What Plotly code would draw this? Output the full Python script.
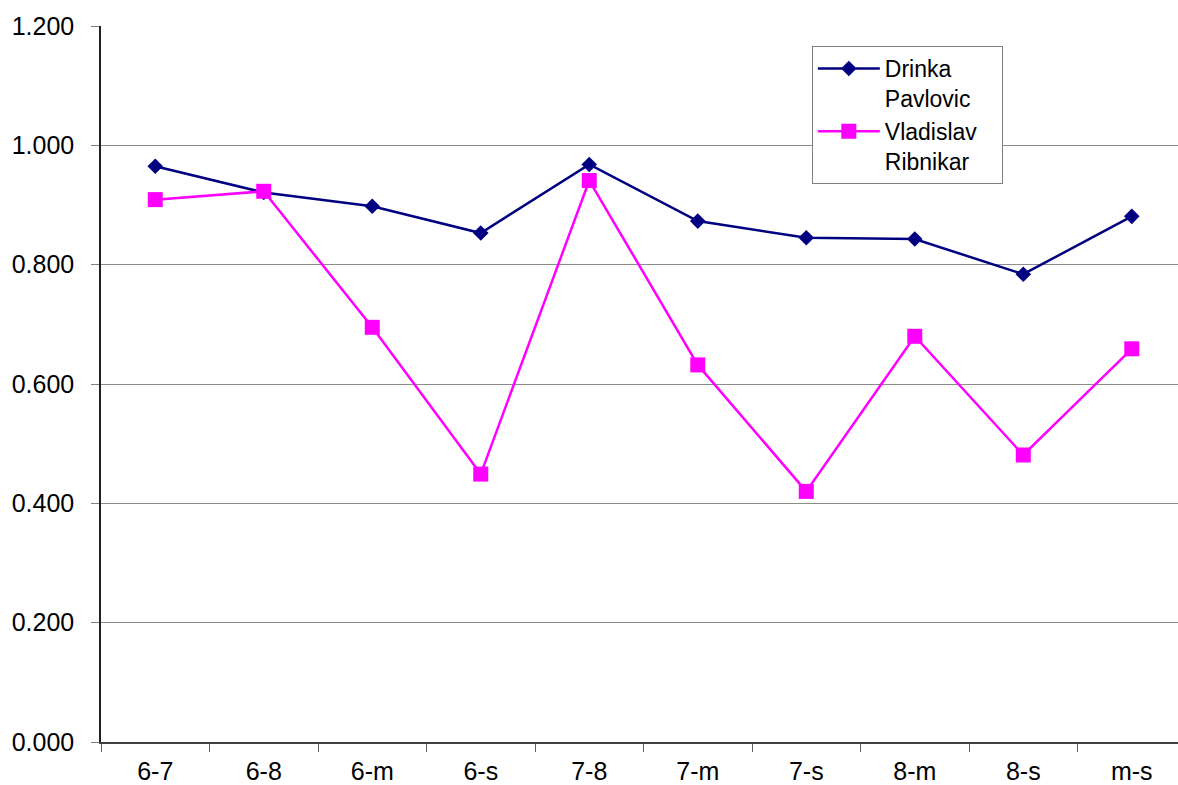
import plotly.graph_objects as go

categories = ["6-7", "6-8", "6-m", "6-s", "7-8", "7-m", "7-s", "8-m", "8-s", "m-s"]
drinka = [0.965, 0.921, 0.898, 0.853, 0.968, 0.873, 0.845, 0.843, 0.784, 0.881]
vladislav = [0.909, 0.923, 0.695, 0.449, 0.941, 0.632, 0.420, 0.680, 0.481, 0.659]
y_ticks = [0.0, 0.2, 0.4, 0.6, 0.8, 1.0, 1.2]

font_family = "Arial, Liberation Sans, sans-serif"
pad = "\u00a0" * 3

fig = go.Figure()
fig.add_trace(go.Scatter(
    x=categories, y=drinka, mode="lines+markers", name="Drinka<br>Pavlovic",
    line=dict(color="#000080", width=2.5),
    marker=dict(symbol="diamond", size=12, color="#000080"),
))
fig.add_trace(go.Scatter(
    x=categories, y=vladislav, mode="lines+markers", name="Vladislav" + pad + "<br>Ribnikar",
    line=dict(color="#FF00FF", width=2.5),
    marker=dict(symbol="square", size=15, color="#FF00FF"),
))

fig.update_layout(
    width=1178, height=785,
    margin=dict(l=101, r=0, t=26, b=43, autoexpand=False),
    paper_bgcolor="white", plot_bgcolor="white",
    font=dict(family=font_family, size=25, color="black"),
    showlegend=True,
    legend=dict(
        x=0.66, y=0.972, xanchor="left", yanchor="top",
        bordercolor="#808080", borderwidth=1, bgcolor="white",
        font=dict(family=font_family, size=23, color="black"),
        itemwidth=62, tracegroupgap=0, valign="top",
    ),
)
fig.update_xaxes(
    type="category", range=[-0.5, 9.426], automargin=False,
    showgrid=False, tickson="boundaries", ticks="outside", ticklen=8,
    tickcolor="#606060", showline=True, linecolor="#404040", linewidth=1.5,
    ticklabelstandoff=6, tickfont=dict(size=25),
)
fig.update_yaxes(
    range=[0, 1.2], tickvals=y_ticks, tickformat=".3f", automargin=False,
    showgrid=True, gridcolor="#8c8c8c", gridwidth=1,
    ticks="outside", ticklen=8, tickcolor="#808080",
    showline=True, linecolor="#202020", linewidth=1.5,
    zeroline=False, ticklabelstandoff=12, tickfont=dict(size=25),
)

fig.write_html(
    "out.html",
    config={"displayModeBar": False},
    post_script="document.body.style.margin='0';document.body.style.overflow='hidden';",
)
